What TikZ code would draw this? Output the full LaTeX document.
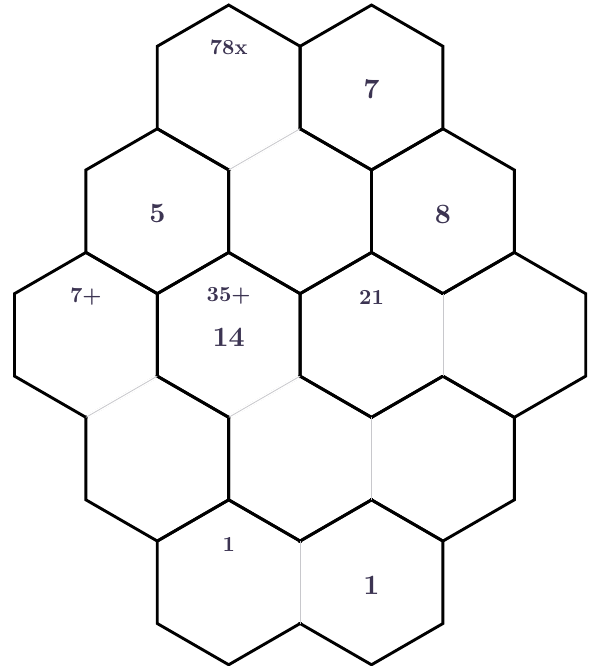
\documentclass[tikz,border=0pt]{standalone}
\usepackage{tikz}
\usetikzlibrary{shapes.geometric}
\definecolor{cagetext}{RGB}{60,52,82}
\definecolor{innerline}{RGB}{200,200,204}

\begin{document}
\begin{tikzpicture}[x=1pt, y=-1pt,
    hexcell/.style={regular polygon, regular polygon sides=6,
      shape border rotate=30, minimum size=164.9pt, inner sep=0pt,
      outer sep=0pt, draw=black, line width=2.9pt},
    clue/.style={font=\bfseries, text=cagetext, scale=2.15},
    cellvalue/.style={font=\bfseries, text=cagetext, scale=2.8},
    erase/.style={draw=white, line width=4.1pt, shorten <=1.45pt, shorten >=1.45pt},
    inner/.style={draw=innerline, line width=0.8pt}]
  \useasboundingbox (0,0) rectangle (590,666);

  % cells, row by row
  \node[hexcell] (h03) at (228.7,87.5) {};
  \node[hexcell] (h05) at (371.5,87.5) {};
  \node[hexcell] (h12) at (157.3,211.2) {};
  \node[hexcell] (h14) at (300.1,211.2) {};
  \node[hexcell] (h16) at (442.9,211.2) {};
  \node[hexcell] (h21) at (85.9,334.9) {};
  \node[hexcell] (h23) at (228.7,334.9) {};
  \node[hexcell] (h25) at (371.5,334.9) {};
  \node[hexcell] (h27) at (514.3,334.9) {};
  \node[hexcell] (h32) at (157.3,458.6) {};
  \node[hexcell] (h34) at (300.1,458.6) {};
  \node[hexcell] (h36) at (442.9,458.6) {};
  \node[hexcell] (h43) at (228.7,582.3) {};
  \node[hexcell] (h45) at (371.5,582.3) {};

  % edges inside a cage
  \foreach \a/\b in {h03.270/h03.330, h25.30/h25.330, h34.30/h34.330,
                     h21.270/h21.330, h23.270/h23.330, h43.30/h43.330} {
    \draw[erase] (\a) -- (\b);
    \draw[inner] (\a) -- (\b);
  }

  % clues and values
  \node[clue] (c78) at (228.7,47) {78x};
  \node[cellvalue] (v7) at (371.5,89) {7};
  \node[cellvalue] (v5) at (157.3,213) {5};
  \node[cellvalue] (v8) at (442.9,214) {8};
  \node[clue] (c7) at (85.9,297) {7+};
  \node[clue] (c35) at (228.7,296) {35+};
  \node[cellvalue] (v14) at (228.7,337) {14};
  \node[clue] (c21) at (371.5,297) {21};
  \node[clue] (c1) at (228.7,544) {1};
  \node[cellvalue] (v1) at (371.5,585) {1};
\end{tikzpicture}
\end{document}
